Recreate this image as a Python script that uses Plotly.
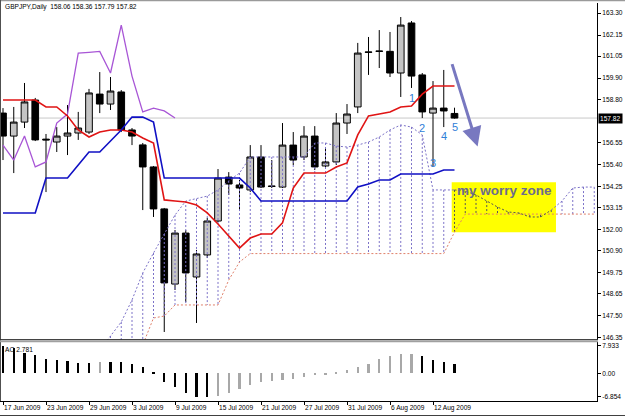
import plotly.graph_objects as go

# ---------------- data ----------------
bar_idx = list(range(43))  # trading days 17 Jun 2009 .. 14 Aug 2009
tick_idx = [0, 4, 8, 12, 16, 20, 24, 28, 32, 36, 40]
tick_labels = ["17 Jun 2009", "23 Jun 2009", "29 Jun 2009", "3 Jul 2009", "9 Jul 2009",
               "15 Jul 2009", "21 Jul 2009", "27 Jul 2009", "31 Jul 2009", "6 Aug 2009",
               "12 Aug 2009"]

open_ = [158.08, 156.88, 157.61, 158.76, 156.72, 156.57, 156.88, 157.04, 157.09, 159.07,
         158.55, 159.18, 157.20, 156.42, 155.27, 153.08, 149.16, 151.82, 149.53, 150.68,
         152.45, 154.74, 154.33, 154.07, 155.79, 154.28, 154.22, 156.41, 155.79, 156.88,
         155.32, 155.53, 157.56, 158.40, 161.27, 161.32, 161.30, 160.17, 162.78, 160.07,
         158.08, 158.34, 158.06]
high = [158.34, 158.40, 159.65, 158.87, 156.99, 157.35, 158.50, 158.14, 159.34, 160.22,
        159.96, 159.28, 157.30, 156.52, 155.32, 153.13, 151.98, 151.98, 150.94, 152.61,
        155.16, 155.00, 154.59, 156.41, 156.41, 155.63, 157.56, 157.09, 157.40, 157.40,
        156.31, 158.08, 158.55, 161.74, 162.05, 162.41, 162.31, 163.09, 162.88, 160.17,
        159.75, 160.33, 158.36]
low = [155.63, 154.95, 157.30, 156.62, 153.96, 156.05, 155.89, 156.68, 156.99, 158.08,
       158.24, 157.09, 156.41, 153.02, 152.66, 146.66, 148.85, 148.22, 147.13, 150.52,
       152.40, 153.81, 153.02, 153.96, 154.17, 154.17, 154.17, 155.37, 155.63, 155.11,
       155.21, 155.37, 156.99, 158.08, 160.07, 160.43, 159.96, 158.92, 159.39, 157.82,
       155.30, 157.35, 157.79]
close = [156.88, 157.61, 158.66, 156.68, 156.68, 156.88, 157.04, 157.30, 159.13, 158.55,
         159.23, 157.20, 156.88, 155.27, 153.08, 149.22, 151.82, 149.74, 150.73, 152.45,
         154.69, 154.38, 154.17, 155.79, 154.22, 154.25, 156.41, 155.63, 156.88, 155.27,
         155.53, 157.56, 158.03, 161.21, 161.25, 161.30, 160.17, 162.67, 160.01, 158.14,
         158.34, 158.19, 157.82]

tenkan = [158.76, 158.76, 158.76, 158.76, 158.40, 158.40, 157.93, 157.20, 156.83, 157.09,
          157.20, 157.20, 157.09, 156.78, 156.52, 153.55, 153.49, 153.44, 153.28, 152.87,
          152.29, 151.67, 151.04, 151.56, 151.77, 151.77, 152.35, 154.17, 154.95, 154.95,
          154.95, 155.27, 155.48, 156.94, 157.93, 158.03, 158.14, 158.40, 158.45, 159.07,
          159.49, 159.49, 159.49]
kijun = [152.87, 152.87, 152.87, 152.87, 154.69, 154.69, 154.69, 155.37, 156.05, 156.05,
         156.62, 157.20, 157.87, 157.87, 157.61, 154.69, 154.69, 154.69, 154.69, 154.69,
         154.69, 154.69, 154.69, 154.17, 153.49, 153.49, 153.49, 153.49, 153.49, 153.49,
         153.49, 153.49, 153.49, 154.22, 154.38, 154.59, 154.59, 154.90, 154.90, 154.90,
         154.90, 155.11, 155.11]

cloud_idx = list(range(56))  # senkou spans run 26 bars ahead (clipped by the chart edge)
span_a = [None] * 9 + [
    145.72, 146.45, 147.18, 148.33, 149.74, 150.78, 151.77, 152.76, 153.49, 153.60,
    153.75, 154.07, 154.54, 154.95, 155.79, 155.79, 155.79, 155.79, 155.79, 155.79,
    156.52, 156.52, 156.36, 156.31, 156.41, 156.57, 156.83, 157.20, 157.46, 157.35,
    156.94, 154.07, 154.07, 154.07, 154.01, 153.81, 153.49, 153.18, 152.92, 152.87,
    152.66, 152.66, 153.02, 153.49, 154.17, 154.22, 154.22][:47]
span_b = [None] * 9 + [
    144.50, 144.50, 144.50, 144.50, 145.98, 147.39, 147.49, 148.07, 148.07, 148.07,
    148.07, 148.07, 149.37, 150.31, 150.75, 150.75, 150.75, 150.75, 150.75, 150.75,
    150.75, 150.75, 150.75, 150.75, 150.75, 150.75, 150.75, 150.75, 150.75, 150.75,
    150.75, 150.75, 150.75, 151.87, 152.81, 152.81, 152.81, 152.81, 152.81, 152.81,
    152.81, 152.81, 152.81, 152.81, 152.81, 152.81, 152.81][:47]

ao = [7.933, 7.25, 6.00, 5.30, 4.20, 3.86, 3.66, 3.08, 2.90, 3.37,
      3.30, 3.20, 2.60, 1.74, 0.20, -2.40, -4.06, -5.60, -6.78, -6.854,
      -6.60, -5.60, -4.60, -3.40, -2.40, -2.35, -1.95, -1.55, -0.97, -0.58,
      -0.20, 0.25, 0.97, 1.74, 2.70, 4.15, 5.00, 5.70, 5.75, 5.00,
      4.00, 3.40, 2.781]

price_ticks = [163.30, 162.15, 161.05, 159.90, 158.80, 156.55, 155.40, 154.25, 153.15,
               152.00, 150.90, 149.75, 148.65, 147.50, 146.35]
ao_ticks = [7.933, 0.0, -6.854]
ao_tick_text = ["7.933", "0.00", "-6.854"]
last_price = close[-1]
title_text = "GBPJPY,Daily  158.06 158.36 157.79 157.82"
ao_label = "AO 2.781"

# ---------------- layout constants ----------------
W, H = 625, 417
X0, XSTEP = 3.0, 10.75          # pixel of bar 0, pixels per bar
PLOT_R = 597                     # right edge of plotting area (px)
MAIN_TOP, MAIN_BOT = 3, 340
AO_TOP, AO_BOT = 342, 401
P_TOP, P_BOT = 163.822, 146.242
AO_MAX, AO_MIN = 9.09, -8.03
FONT = "Liberation Sans"
SMALL = 6.6

def fx(px):
    return px / W

def fy(py):
    return 1 - py / H

x_lo = -X0 / XSTEP
x_hi = (PLOT_R - X0) / XSTEP

fig = go.Figure()

# candles
fig.add_trace(go.Candlestick(
    x=bar_idx, open=open_, high=high, low=low, close=close,
    increasing=dict(line=dict(color="black", width=1), fillcolor="#c4c4c4"),
    decreasing=dict(line=dict(color="black", width=1), fillcolor="black"),
    whiskerwidth=0, hoverinfo="skip", xaxis="x", yaxis="y"))

# cloud hatching
ZONE_BARS = range(42, 52)
hx_p, hy_p, hx_d, hy_d = [], [], [], []
for i in cloud_idx:
    a, b = span_a[i], span_b[i]
    if a is None or b is None:
        continue
    if i in ZONE_BARS:
        hx_d += [i, i, None]; hy_d += [a, b, None]
    else:
        hx_p += [i, i, None]; hy_p += [a, b, None]
DOT = "2px,2px"
fig.add_trace(go.Scatter(x=hx_p, y=hy_p, mode="lines", hoverinfo="skip",
                         line=dict(color="#7c72c8", width=1, dash=DOT)))
fig.add_trace(go.Scatter(x=hx_d, y=hy_d, mode="lines", hoverinfo="skip",
                         line=dict(color="#555555", width=1, dash=DOT)))

# senkou span B
fig.add_trace(go.Scatter(x=cloud_idx, y=span_b, mode="lines", hoverinfo="skip",
                         line=dict(color="#e0806a", width=1, dash=DOT)))
# senkou span A (darker inside the yellow zone)
sa_out1 = [v if i <= 42 else None for i, v in enumerate(span_a)]
sa_in = [v if 42 <= i <= 51 else None for i, v in enumerate(span_a)]
sa_out2 = [v if i >= 51 else None for i, v in enumerate(span_a)]
fig.add_trace(go.Scatter(x=cloud_idx, y=sa_out1, mode="lines", hoverinfo="skip",
                         line=dict(color="#7c72c8", width=1, dash=DOT)))
fig.add_trace(go.Scatter(x=cloud_idx, y=sa_in, mode="lines", hoverinfo="skip",
                         line=dict(color="#555555", width=1, dash=DOT)))
fig.add_trace(go.Scatter(x=cloud_idx, y=sa_out2, mode="lines", hoverinfo="skip",
                         line=dict(color="#7c72c8", width=1, dash=DOT)))

# chikou span (close shifted back 26 bars)
chikou_x = bar_idx[:len(bar_idx) - 26]
chikou_y = close[26:]
fig.add_trace(go.Scatter(x=chikou_x, y=chikou_y, mode="lines", hoverinfo="skip",
                         line=dict(color="#a856d6", width=1.3)))
# tenkan / kijun
fig.add_trace(go.Scatter(x=bar_idx, y=tenkan, mode="lines", hoverinfo="skip",
                         line=dict(color="#e01414", width=1.6)))
fig.add_trace(go.Scatter(x=bar_idx, y=kijun, mode="lines", hoverinfo="skip",
                         line=dict(color="#1010c4", width=1.6)))

# AO histogram
ao_colors = ["black"] + ["#a8a8a8" if ao[i] > ao[i - 1] else "black" for i in range(1, len(ao))]
fig.add_trace(go.Bar(x=bar_idx, y=ao, width=0.22, marker=dict(color=ao_colors, line=dict(width=0)),
                     hoverinfo="skip", xaxis="x", yaxis="y2"))

shapes = []
# yellow "worry zone"
shapes.append(dict(type="rect", xref="x", yref="y", x0=41.74, x1=51.44, y0=151.86, y1=154.47,
                   fillcolor="#ffff00", line=dict(width=0), layer="below"))
# current price line
shapes.append(dict(type="line", xref="paper", yref="y", x0=0, x1=fx(PLOT_R), y0=last_price,
                   y1=last_price, line=dict(color="#c8c8c8", width=1), layer="below"))
# frame lines
shapes += [
    dict(type="line", xref="paper", yref="paper", x0=0, x1=1, y0=fy(0.5), y1=fy(0.5),
         line=dict(color="#9a9a9a", width=1.5)),
    dict(type="line", xref="paper", yref="paper", x0=fx(0.5), x1=fx(0.5), y0=fy(0), y1=fy(AO_BOT),
         line=dict(color="#505050", width=1)),
    dict(type="line", xref="paper", yref="paper", x0=0, x1=fx(PLOT_R + 1), y0=fy(339.6), y1=fy(339.6),
         line=dict(color="#303030", width=1)),
    dict(type="line", xref="paper", yref="paper", x0=0, x1=fx(PLOT_R + 1), y0=fy(341.2), y1=fy(341.2),
         line=dict(color="#a0a0a0", width=2)),
    dict(type="line", xref="paper", yref="paper", x0=0, x1=1, y0=fy(415.5), y1=fy(415.5),
         line=dict(color="#404040", width=1)),
]

ann = []
ann.append(dict(xref="paper", yref="paper", x=fx(3), y=fy(7), xanchor="left", yanchor="middle",
                text=title_text, showarrow=False, font=dict(family=FONT, size=SMALL, color="black")))
ann.append(dict(xref="paper", yref="paper", x=fx(3), y=fy(349), xanchor="left", yanchor="middle",
                text=ao_label, showarrow=False, font=dict(family=FONT, size=SMALL, color="black")))
for t, lab in zip(tick_idx, tick_labels):
    ann.append(dict(xref="x", yref="paper", x=t - 0.1, y=fy(407.5), xanchor="left", yanchor="middle",
                    text=lab, showarrow=False, font=dict(family=FONT, size=SMALL, color="black")))
# price box
ann.append(dict(xref="paper", yref="y", x=fx(PLOT_R + 1), y=last_price, xanchor="left", yanchor="middle",
                text=f"{last_price:.2f}", showarrow=False, bgcolor="black", borderpad=1,
                font=dict(family=FONT, size=SMALL, color="white")))
# worry zone text
ann.append(dict(xref="x", yref="y", x=42.0, y=154.52, xanchor="left", yanchor="top",
                text="<b>my worry zone</b>", showarrow=False,
                font=dict(family=FONT, size=13.5, color="#6c6c8c")))
# wave labels
for lab, bx, py in [("1", 38, 158.86), ("2", 39, 157.30), ("3", 40, 155.50), ("4", 41, 156.90), ("5", 42, 157.35)]:
    ann.append(dict(xref="x", yref="y", x=bx, y=py, text=lab, showarrow=False,
                    font=dict(family=FONT, size=11, color="#2f80d8")))
# arrow
ann.append(dict(xref="x", yref="y", x=44.15, y=156.33, ax=-26, ay=-84, text="", showarrow=True,
                arrowhead=2, arrowsize=1.3, arrowwidth=3, arrowcolor="#7878c0"))

fig.update_layout(
    width=W, height=H, margin=dict(l=0, r=0, t=0, b=0),
    paper_bgcolor="white", plot_bgcolor="white", showlegend=False,
    boxgap=0.38, boxgroupgap=0, bargap=0,
    shapes=shapes, annotations=ann,
    xaxis=dict(domain=[0, fx(PLOT_R)], range=[x_lo, x_hi], anchor="y2", showgrid=False,
               zeroline=False, showline=True, linecolor="black", linewidth=1,
               ticks="outside", ticklen=3, tickcolor="black", tickvals=tick_idx,
               showticklabels=False, rangeslider=dict(visible=False)),
    yaxis=dict(domain=[fy(MAIN_BOT), fy(MAIN_TOP)], range=[P_BOT, P_TOP], side="right", anchor="x",
               showgrid=False, zeroline=False, showline=True, linecolor="black", linewidth=1,
               ticks="outside", ticklen=3, tickcolor="black", tickvals=price_ticks,
               ticktext=[f"{v:.2f}" for v in price_ticks],
               tickfont=dict(family=FONT, size=SMALL, color="black")),
    yaxis2=dict(domain=[fy(AO_BOT), fy(AO_TOP)], range=[AO_MIN, AO_MAX], side="right", anchor="x",
                showgrid=False, zeroline=False, showline=True, linecolor="black", linewidth=1,
                ticks="outside", ticklen=3, tickcolor="black", tickvals=ao_ticks,
                ticktext=ao_tick_text, tickfont=dict(family=FONT, size=SMALL, color="black")),
)

fig.write_html("out.html")
